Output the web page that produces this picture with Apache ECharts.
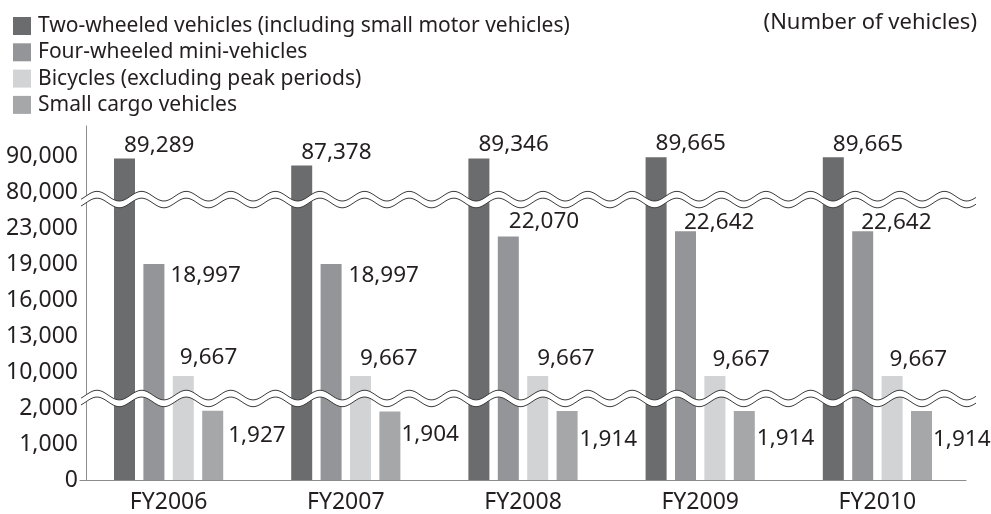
<!DOCTYPE html>
<html>
<head>
<meta charset="utf-8">
<script src="https://cdn.jsdelivr.net/npm/echarts@6/dist/echarts.min.js"></script>
<style>
  html, body { margin: 0; padding: 0; background: #ffffff; }
  #chart { width: 991px; height: 514px; }
</style>
</head>
<body>
<div id="chart"></div>
<script>
// ---- data ----
const categories = ['FY2006', 'FY2007', 'FY2008', 'FY2009', 'FY2010'];
const seriesNames = [
  'Two-wheeled vehicles (including small motor vehicles)',
  'Four-wheeled mini-vehicles',
  'Bicycles (excluding peak periods)',
  'Small cargo vehicles'
];
const twoWheeled  = [89289, 87378, 89346, 89665, 89665];
const fourWheeled = [18997, 18997, 22070, 22642, 22642];
const bicycles    = [9667, 9667, 9667, 9667, 9667];
const smallCargo  = [1927, 1904, 1914, 1914, 1914];
// broken-axis tick values (shown evenly spaced)
const tickValues = [0, 1000, 2000, 10000, 13000, 16000, 19000, 23000, 80000, 90000];
const unitLabel = '(Number of vehicles)';

// ---- style ----
const FONT = 'Noto Sans';
const TEXT = '#231f20';
const colors = ['#6b6c6e', '#939598', '#d2d3d5', '#a6a7a9'];
// label anchor offsets [dx, dy] from the top-left corner of each bar
const labelOffsets = [
  [[10, -13], [10, -13], [10, -14], [10, -14], [10, -13]],
  [[27, 12], [28, 12], [11, -15], [9, -9], [9, -9]],
  [[7, -18], [10, -17], [10, -17], [8, -16], [8, -16]],
  [[26, 25], [22, 23], [23, 28], [23, 27], [22, 28]]
];
const breakSegments = [2, 7];      // segment index after which a break occurs
const breakCenters = [2.265, 7.79]; // where to draw wave bands (axis units)

// piecewise mapping of a value onto the evenly-spaced broken axis
function toAxis(v) {
  const t = tickValues;
  for (let i = 0; i < t.length - 1; i++) {
    if (v >= t[i] && v <= t[i + 1]) {
      if (breakSegments.indexOf(i) >= 0 && i + 2 < t.length) {
        // inside a break gap: measure down from the upper tick using the upper segment's scale
        return (i + 1) - (t[i + 1] - v) / (t[i + 2] - t[i + 1]);
      }
      return i + (v - t[i]) / (t[i + 1] - t[i]);
    }
  }
  const n = t.length - 1;
  return n + (v - t[n]) / (t[n] - t[n - 1]);
}

const rawSeries = [twoWheeled, fourWheeled, bicycles, smallCargo];

const chart = echarts.init(document.getElementById('chart'), null, { renderer: 'canvas' });

const series = rawSeries.map((arr, si) => ({
  name: seriesNames[si],
  type: 'bar',
  barWidth: 21,
  barGap: '40%',
  itemStyle: { color: colors[si] },
  label: {
    show: true,
    fontFamily: FONT,
    fontSize: 22.5,
    color: TEXT,
    align: 'left',
    verticalAlign: 'middle',
    formatter: p => p.data.raw.toLocaleString('en-US')
  },
  data: arr.map((v, i) => ({
    value: toAxis(v),
    raw: v,
    label: { position: labelOffsets[si][i] }
  }))
}));

const AXIS_COLOR = '#8c8c8c';

chart.setOption({
  animation: false,
  backgroundColor: '#ffffff',
  textStyle: { fontFamily: FONT },
  title: {
    text: unitLabel,
    right: 9,
    top: 7,
    textStyle: { fontFamily: FONT, fontSize: 22, fontWeight: 'normal', color: TEXT }
  },
  legend: {
    orient: 'vertical',
    left: 8,
    top: 10,
    itemWidth: 18,
    itemHeight: 18,
    itemGap: 4.3,
    icon: 'rect',
    selectedMode: false,
    textStyle: { fontFamily: FONT, fontSize: 21, color: TEXT, lineHeight: 22, padding: [0, 0, 0, 2] },
    data: seriesNames
  },
  grid: { left: 80, right: 25, top: 126, bottom: 32, containLabel: false },
  xAxis: {
    type: 'category',
    data: categories,
    axisLine: { lineStyle: { color: AXIS_COLOR, width: 1 } },
    axisTick: { show: false },
    axisLabel: { fontFamily: FONT, fontSize: 23, color: TEXT, margin: 11 }
  },
  yAxis: {
    type: 'value',
    min: 0,
    max: 9.834,
    interval: 1,
    offset: -6,
    splitLine: { show: false },
    axisTick: { show: false },
    axisLine: { show: true, lineStyle: { color: AXIS_COLOR, width: 1 } },
    axisLabel: {
      fontFamily: FONT, fontSize: 23, color: TEXT, margin: 8,
      showMaxLabel: false,
      formatter: v => {
        const r = Math.round(v);
        if (Math.abs(v - r) > 1e-6 || r < 0 || r >= tickValues.length) return '';
        return tickValues[r].toLocaleString('en-US');
      }
    }
  },
  series: series
});

// ---- wavy break bands ----
function waveGraphics(yc) {
  const x0 = 81, x1 = 976, P = 44.6, A = 4.8, half = 3.4, phase = 97;
  const top = [], bot = [];
  for (let x = x0; x <= x1 + 0.01; x += 1) {
    const s = -A * Math.cos(2 * Math.PI * (x - phase) / P);
    top.push([x, yc - half + s]);
    bot.push([x, yc + half + s]);
  }
  const poly = top.concat(bot.slice().reverse());
  return [
    { type: 'polygon', shape: { points: poly }, style: { fill: '#ffffff', stroke: null }, z: 100, silent: true },
    { type: 'polyline', shape: { points: top }, style: { stroke: '#3c3c3c', lineWidth: 1, fill: null }, z: 101, silent: true },
    { type: 'polyline', shape: { points: bot }, style: { stroke: '#3c3c3c', lineWidth: 1, fill: null }, z: 101, silent: true }
  ];
}
let g = [];
breakCenters.forEach(c => {
  const yc = chart.convertToPixel({ yAxisIndex: 0 }, c);
  g = g.concat(waveGraphics(yc));
});
chart.setOption({ graphic: g });
</script>
</body>
</html>
